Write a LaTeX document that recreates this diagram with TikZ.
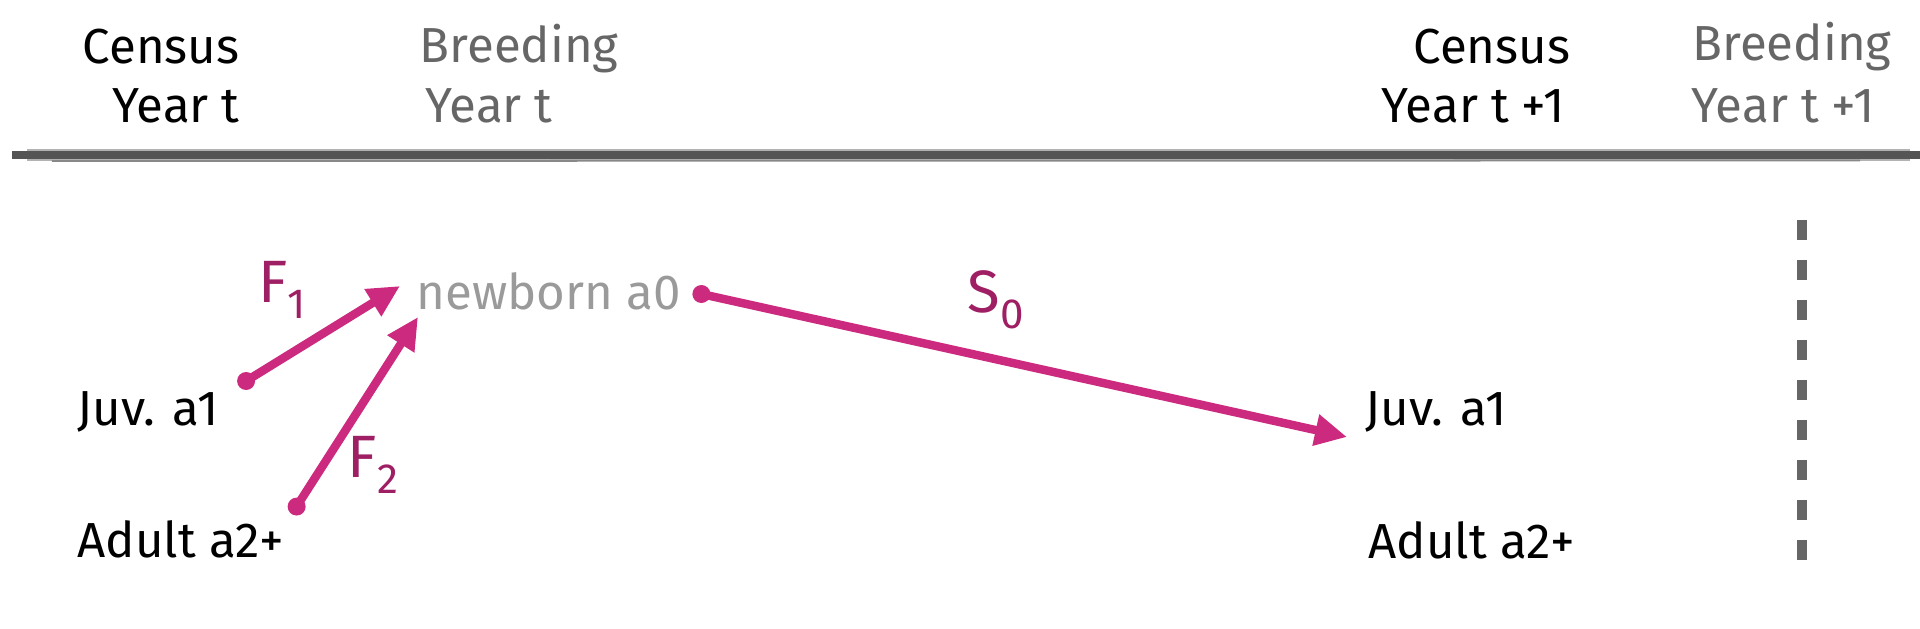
\documentclass[tikz,border=0pt]{standalone}
\usepackage{fontspec}
\setmainfont{Fira Sans}
\usetikzlibrary{arrows.meta,calc}
\definecolor{arrowc}{HTML}{CC2A7E}
\definecolor{labc}{HTML}{9E1F63}
\definecolor{darkg}{HTML}{555555}
\definecolor{midg}{HTML}{666666}
\definecolor{lightg}{HTML}{9A9A9A}
\tikzset{
  txt/.style={font=\fontsize{14}{16}\selectfont, inner sep=0pt, text=black},
  gtxt/.style={txt, text=midg},
  lab/.style={font=\fontsize{17}{19}\selectfont, inner sep=0pt, text=labc},
  flow/.style={draw=arrowc, line width=2.4pt, line cap=round,
    -{Triangle[length=0.32cm,width=0.30cm]}},
  startdot/.style={fill=arrowc, circle, inner sep=0pt, minimum size=0.18cm},
  sep/.style={draw=midg, line width=2.8pt, dash pattern=on 0.2cm off 0.2cm}
}
\newcommand{\lbl}[2]{#1\raisebox{-0.5ex}{\fontsize{12}{14}\selectfont #2}}
\begin{document}
\begin{tikzpicture}
\useasboundingbox (0,0) rectangle (19.2,-6.28);
% header
\node[txt] (census1) at (1.61,-0.47) {Census};
\node[txt] (yeart1) at (1.76,-1.06) {Year t};
\node[gtxt, anchor=west] (breed1) at (4.19,-0.49) {Breeding};
\node[gtxt, anchor=west] (byear1) at (4.25,-1.06) {Year t};
\node[txt, anchor=east] (census2) at (15.71,-0.47) {Census};
\node[txt, anchor=east] (yeart2) at (15.65,-1.06) {Year t +1};
\node[gtxt] (breed2) at (17.92,-0.47) {Breeding};
\node[gtxt] (byear2) at (17.83,-1.06) {Year t +1};
% brush separator
\coordinate (sepL) at (0.12,-1.55);
\coordinate (sepR) at (19.2,-1.55);
\draw[darkg!45, line width=3.6pt] ($(sepL)+(0.15,0)$) -- ($(sepR)+(-0.1,0)$);
\draw[darkg, line width=2.4pt] (sepL) -- (sepR);
\draw[darkg!70, line width=0.5pt] ($(sepL)+(0.4,-0.06)$) -- ($(sepR)+(-0.6,-0.055)$);
% stages
\node[txt, text=lightg, anchor=west] (newborn) at (4.16,-2.91) {newborn a0};
\node[txt, anchor=west] (juv1) at (0.77,-4.12) {Juv. a1};
\node[txt, anchor=west] (adult1) at (0.77,-5.39) {Adult a2+};
\node[txt, anchor=west] (juv2) at (13.65,-4.12) {Juv. a1};
\node[txt, anchor=west] (adult2) at (13.68,-5.40) {Adult a2+};
% arrow end points
\coordinate (f1s) at ($(juv1.north east)+(0.27,0.10)$);
\coordinate (f1e) at ($(newborn.west)+(-0.16,0.05)$);
\coordinate (f2s) at ($(adult1.north)+(1.16,0.13)$);
\coordinate (f2e) at ($(newborn.west)+(0.02,-0.26)$);
\coordinate (s0s) at ($(newborn.east)+(0.20,-0.03)$);
\coordinate (s0e) at ($(juv2.west)+(-0.18,-0.25)$);
\draw[flow] (f1s) -- (f1e);
\draw[flow] (f2s) -- (f2e);
\draw[flow] (s0s) -- (s0e);
\node[startdot] (d1) at (f1s) {};
\node[startdot] (d2) at (f2s) {};
\node[startdot] (d3) at (s0s) {};
% labels
\node[lab] (F1) at (2.82,-2.90) {\lbl{F}{1}};
\node[lab] (F2) at (3.73,-4.65) {\lbl{F}{2}};
\node[lab] (S0) at (9.96,-3.00) {\lbl{S}{0}};
% breeding separator
\coordinate (vt) at (18.02,-2.20);
\coordinate (vb) at (18.02,-5.60);
\draw[sep] (vt) -- (vb);
\end{tikzpicture}
\end{document}
